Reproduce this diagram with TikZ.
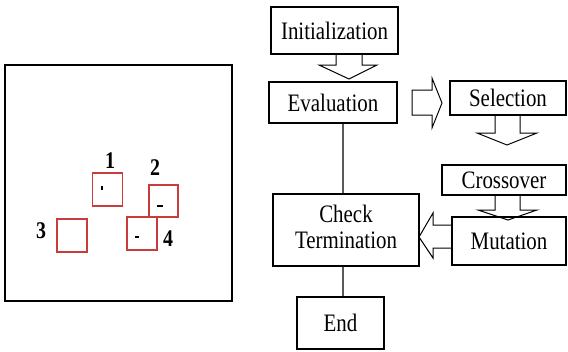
\documentclass[tikz,border=0pt]{standalone}
\usepackage{fontspec}
\setmainfont{Liberation Serif}
\usepackage{tikz}
\definecolor{boxred}{HTML}{C83C3C}
\newcommand{\tall}[1]{\scalebox{1}[1.2]{#1}}

\begin{document}
\begin{tikzpicture}[x=1bp,y=-1bp,
  step box/.style={rectangle,draw=black,line width=1.3bp,inner sep=0pt,font=\fontsize{21}{22}\selectfont},
  cell/.style={rectangle,draw=boxred,line width=1.1bp,minimum width=30bp,minimum height=33bp,inner sep=0pt},
  num/.style={font=\bfseries\fontsize{20}{20}\selectfont,inner sep=0pt},
  hollow/.style={draw=black,line width=1bp,line join=miter}]
                      \useasboundingbox (0,0) rectangle (568,351);

                      % search space with the four windows
                      \draw[line width=1.5bp] (5,65) rectangle (232,301);
                      \node (c1) at (107.5,189.5) [cell] {};
                      \node (c2) at (163.5,201) [cell,minimum width=29bp,minimum height=32bp] {};
                      \node (c3) at (72,235.5) [cell] {};
                      \node (c4) at (142,233.5) [cell] {};
                      \node (n1) at (110,161) [num] {\tall{1}};
                      \node (n2) at (155,168) [num] {\tall{2}};
                      \node (n3) at (41,231) [num] {\tall{3}};
                      \node (n4) at (168,239) [num] {\tall{4}};
                      \draw[line width=1.2bp] (102,186)--(102,190);
                      \draw[line width=2bp] (157,206)--(163,206);
                      \draw[line width=2bp] (135,237)--(139,237);

                      % flow chart
                      \node (init) at (334.5,30.5) [step box,minimum width=127bp,minimum height=47bp] {\tall{Initialization}};
                      \node (eval) at (333,102.5) [step box,minimum width=128bp,minimum height=41bp] {\tall{Evaluation}};
                      \node (sel) at (508,98) [step box,minimum width=116bp,minimum height=34bp] {\tall{Selection}};
                      \node (cross) at (504,180) [step box,minimum width=124bp,minimum height=30bp] {\tall{Crossover}};
                      \node (mut) at (509,241) [step box,minimum width=114bp,minimum height=48bp] {\tall{Mutation}};
                      \node (check) at (346,230) [step box,minimum width=146bp,minimum height=72bp,align=center] {\tall{\begin{tabular}{@{}c@{}}Check\\Termination\end{tabular}}};
                      \node (end) at (340.5,323) [step box,minimum width=87bp,minimum height=52bp] {\tall{End}};

                      \draw[line width=1.3bp] ([xshift=10bp]eval.south)--([xshift=-3bp]check.north);
                      \draw[line width=1.3bp] ([xshift=-3bp]check.south)--([xshift=2.5bp]end.north);

                      % hollow block arrows
                      \draw[hollow] (336,54)--(336,65)--(319,65)--(349,79)--(377,65)--(362,65)--(362,54);
                      \draw[hollow] (412,90)--(432,90)--(432,78)--(442,103)--(432,128)--(432,115)--(412,115)--cycle;
                      \draw[hollow] (495,115)--(495,133)--(477,133)--(507,145)--(537,133)--(520,133)--(520,115);
                      \draw[hollow] (495,195)--(495,210)--(478,210)--(508,220)--(537,210)--(520,210)--(520,195);
                      \draw[hollow] (451,225)--(433,225)--(433,213)--(419,237)--(433,258)--(433,248)--(451,248);
                \end{tikzpicture}
\end{document}
